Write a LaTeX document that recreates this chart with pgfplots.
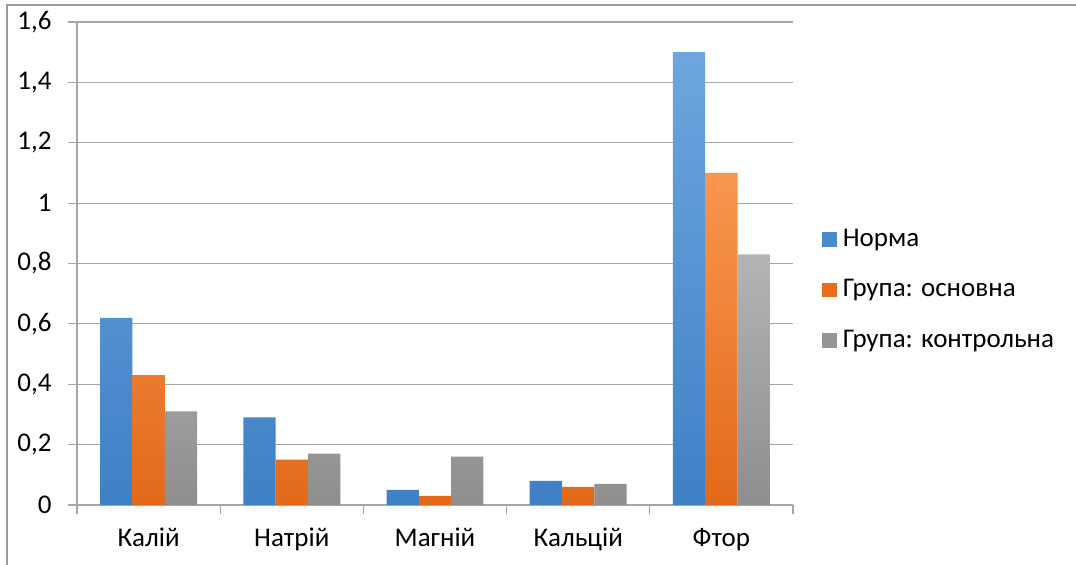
\documentclass[border=0pt]{standalone}
\usepackage{pgfplots}
\pgfplotsset{compat=1.18}
\usepackage{fontspec}
\setmainfont{Carlito}
\definecolor{axisgray}{HTML}{A6A6A6}
\definecolor{framegray}{HTML}{9A9A9A}
\definecolor{blueT}{HTML}{6EA6DF}
\definecolor{blueB}{HTML}{3E80C6}
\definecolor{orT}{HTML}{F8964F}
\definecolor{orB}{HTML}{E2691A}
\definecolor{grT}{HTML}{B4B4B4}
\definecolor{grB}{HTML}{8E8E8E}
\definecolor{blueL}{HTML}{4A89CC}
\definecolor{orL}{HTML}{E86D1A}
\definecolor{grL}{HTML}{959595}
\begin{document}
\fontsize{13.5}{16}\selectfont
\begin{tikzpicture}
\useasboundingbox (0,0) rectangle (538pt,282.5pt);
\draw[framegray, line width=0.6pt] (3.5pt,0) -- (3.5pt,280pt) -- (538pt,280pt);
\begin{axis}[
  at={(38.5pt,30pt)}, anchor=south west,
  width=358pt, height=241.5pt, scale only axis,
  xmin=-0.5, xmax=4.5, ymin=0, ymax=1.6,
  axis lines*=left,
  axis line style={draw=axisgray, line width=0.6pt},
  ytick={0,0.2,...,1.6},
  ymajorgrids, grid style={draw=axisgray, line width=0.6pt},
  tick align=outside,
  major tick length=4.5pt,
  ytick style={draw=axisgray, line width=0.6pt},
  xtick={-0.5,0.5,1.5,2.5,3.5,4.5},
  xticklabels={},
  xtick style={draw=axisgray, line width=0.6pt},
  extra x ticks={0,1,2,3,4},
  extra x tick labels={Калій,Натрій,Магній,Кальцій,Фтор},
  extra x tick style={major tick length=0pt, grid=none, xticklabel style={yshift=-7pt}},
  /pgf/number format/assume math mode=true,
  /pgf/number format/use comma,
  yticklabel style={/pgf/number format/fixed, xshift=-3.5pt},
  tick label style={font=\fontsize{13.5}{16}\selectfont},
  legend style={at={(rel axis cs:1.0405,0.445)}, anchor=west, draw=none, fill=none,
    font=\fontsize{13.5}{16}\selectfont, row sep=10.5pt, inner sep=0pt,
    /tikz/every odd column/.append style={column sep=1pt},
    /tikz/every even column/.append style={column sep=0pt}},
  legend cell align=left,
  legend image code/.code={\fill[#1] (0pt,-3.6pt) rectangle (7.2pt,3.6pt);},
]
\addplot[ybar, bar width=0.2256, bar shift=-0.2256, draw=none, top color=blueT, bottom color=blueB, forget plot] coordinates {(0,0.62) (1,0.29) (2,0.05) (3,0.08) (4,1.50)};
\addplot[ybar, bar width=0.2256, bar shift=0, draw=none, top color=orT, bottom color=orB, forget plot] coordinates {(0,0.43) (1,0.15) (2,0.03) (3,0.06) (4,1.10)};
\addplot[ybar, bar width=0.2256, bar shift=0.2256, draw=none, top color=grT, bottom color=grB, forget plot] coordinates {(0,0.31) (1,0.17) (2,0.16) (3,0.07) (4,0.83)};
\addlegendimage{fill=blueL, draw=none}
\addlegendentry{Норма}
\addlegendimage{fill=orL, draw=none}
\addlegendentry{Група: основна}
\addlegendimage{fill=grL, draw=none}
\addlegendentry{Група: контрольна}
\end{axis}
\end{tikzpicture}
\end{document}
